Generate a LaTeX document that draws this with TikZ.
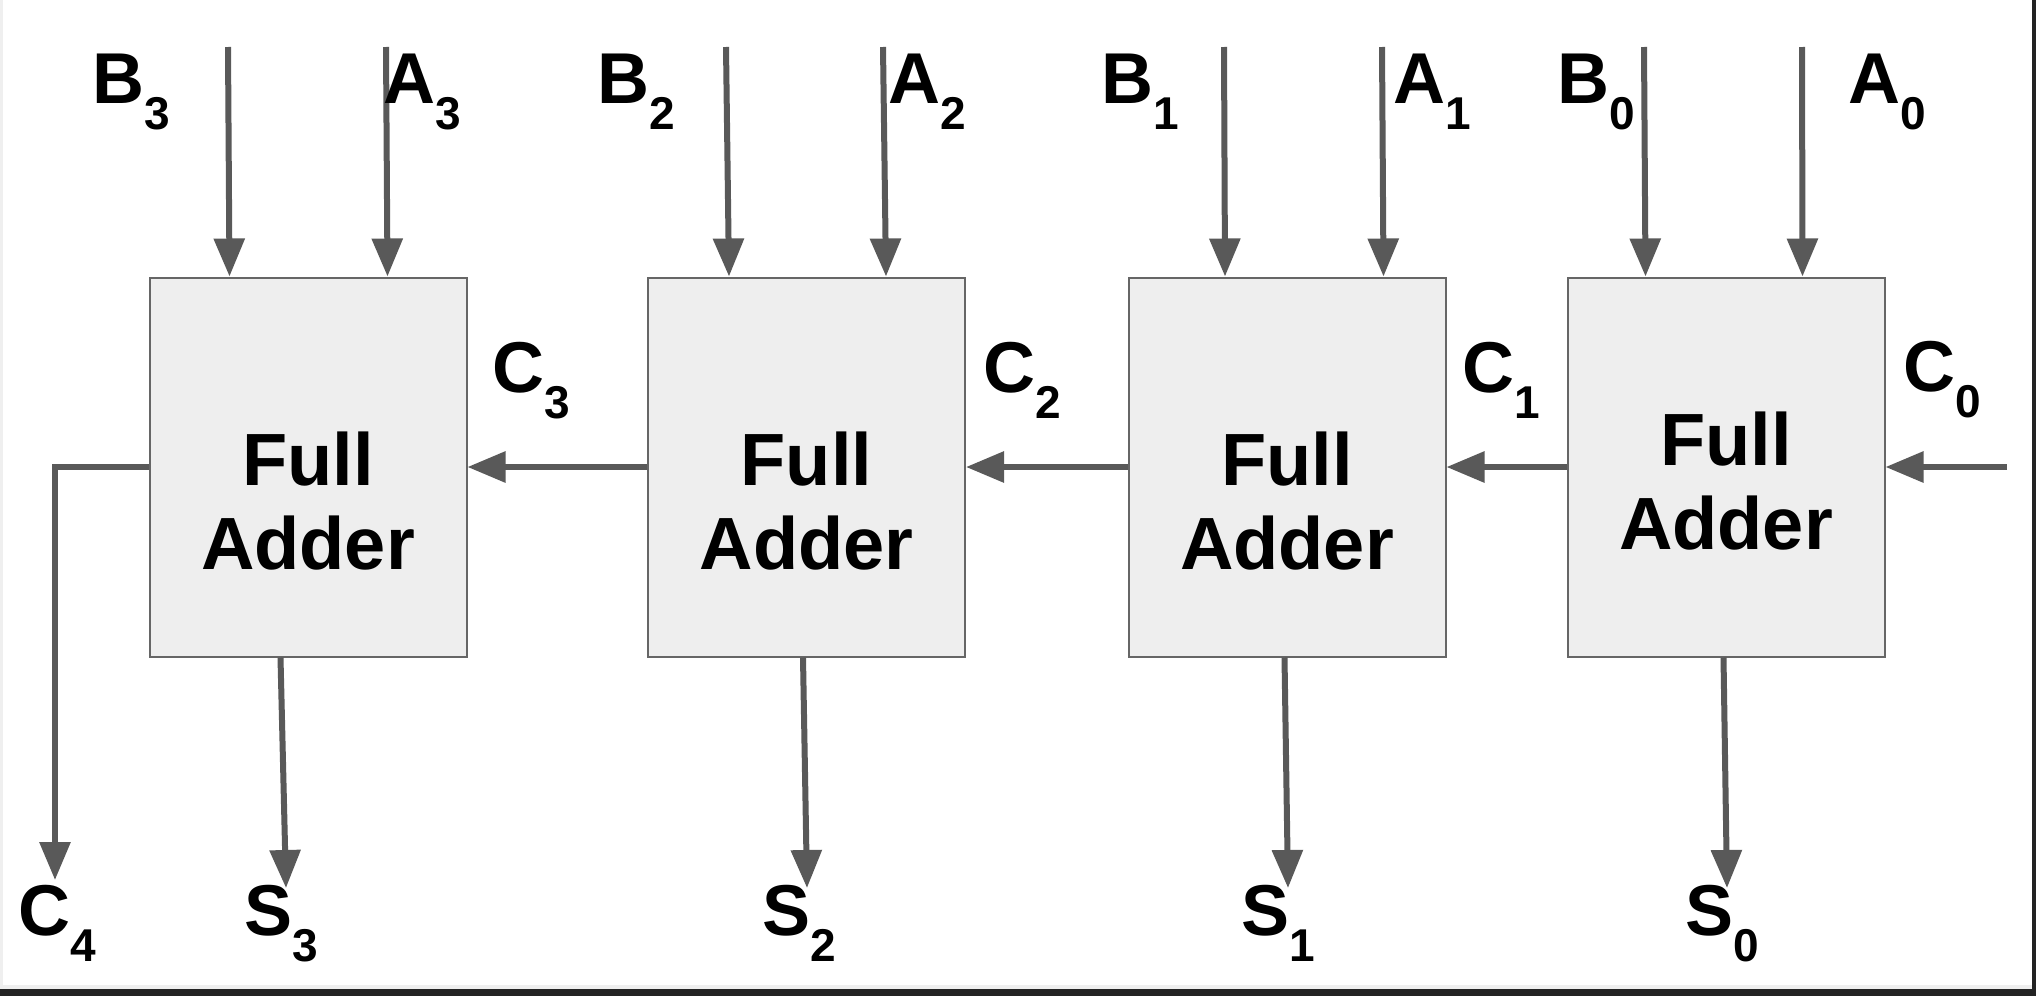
\documentclass[tikz,border=0pt]{standalone}
\usepackage{fontspec}
\setmainfont{Liberation Sans}
\usetikzlibrary{arrows.meta,calc}
\definecolor{wire}{HTML}{595959}
\definecolor{boxline}{HTML}{666666}
\definecolor{boxfill}{HTML}{EEEEEE}
\definecolor{frame}{HTML}{232323}
\definecolor{edgegray}{HTML}{EFEFEF}
\newcommand{\lblsub}[2]{#1\raisebox{-26pt}{\fontsize{46}{46}\selectfont #2}}
\begin{document}
\begin{tikzpicture}[x=1pt,y=-1pt,
  fa/.style={draw=boxline,line width=2pt,fill=boxfill,minimum width=317pt,minimum height=379pt,inner sep=0pt},
  fatext/.style={font=\bfseries\fontsize{74}{84}\selectfont,align=center,inner sep=0pt},
  lbl/.style={font=\bfseries\fontsize{72}{72}\selectfont,inner sep=0pt,anchor=base west},
  arr/.style={draw=wire,line width=6pt,-{Triangle[length=38pt,width=30pt]},line join=miter}]
\useasboundingbox (0,0) rectangle (2036,996);
\fill[white] (0,0) rectangle (2036,996);
\fill[edgegray] (0,0) rectangle (3,989);
\fill[edgegray] (0,985) rectangle (2032,989);
\fill[frame] (0,989) rectangle (2036,996);
\fill[frame] (2032,0) rectangle (2036,996);

% boxes
\node[fa] (b1) at (308,467) {};
\node[fa] (b2) at (806.5,467) {};
\node[fa] (b3) at (1287,467) {};
\node[fa] (b4) at (1726,467) {};
\node[fatext] (t1) at ($(b1.center)+(0,34)$) {Full\\Adder};
\node[fatext] (t2) at ($(b2.center)+(0,34)$) {Full\\Adder};
\node[fatext] (t3) at ($(b3.center)+(0,34)$) {Full\\Adder};
\node[fatext] (t4) at ($(b4.center)+(0,14)$) {Full\\Adder};

% input ends
\coordinate (inB3) at (228,47);
\coordinate (inA3) at (386,47);
\coordinate (inB2) at (726,47);
\coordinate (inA2) at (883,47);
\coordinate (inB1) at (1224,47);
\coordinate (inA1) at (1382,47);
\coordinate (inB0) at (1644,47);
\coordinate (inA0) at (1802,47);
\draw[arr] (inB3) -- ($(b1.north west)+(81,0)$);
\draw[arr] (inA3) -- ($(b1.north west)+(239,0)$);
\draw[arr] (inB2) -- ($(b2.north west)+(82,0)$);
\draw[arr] (inA2) -- ($(b2.north west)+(239,0)$);
\draw[arr] (inB1) -- ($(b3.north west)+(97.5,0)$);
\draw[arr] (inA1) -- ($(b3.north west)+(256,0)$);
\draw[arr] (inB0) -- ($(b4.north west)+(79,0)$);
\draw[arr] (inA0) -- ($(b4.north west)+(236,0)$);

% sum outputs
\coordinate (s3tip) at (286,888);
\coordinate (s2tip) at (807,888);
\coordinate (s1tip) at (1288,888);
\coordinate (s0tip) at (1727,888);
\draw[arr] ($(b1.south west)+(132,0)$) -- (s3tip);
\draw[arr] ($(b2.south west)+(156,0)$) -- (s2tip);
\draw[arr] ($(b3.south west)+(157,0)$) -- (s1tip);
\draw[arr] ($(b4.south west)+(157,0)$) -- (s0tip);

% carries
\coordinate (c0in) at (2007,467);
\coordinate (c4bend) at (55,467);
\coordinate (c4tip) at (55,880);
\draw[arr] (c0in) -- (b4.east);
\draw[arr] (b4.west) -- (b3.east);
\draw[arr] (b3.west) -- (b2.east);
\draw[arr] (b2.west) -- (b1.east);
\draw[arr] (b1.west) -- (c4bend) -- (c4tip);

% labels
\node[lbl] (lB3) at (92,103) {\lblsub{B}{3}};
\node[lbl] (lA3) at (383,103) {\lblsub{A}{3}};
\node[lbl] (lB2) at (597,103) {\lblsub{B}{2}};
\node[lbl] (lA2) at (888,103) {\lblsub{A}{2}};
\node[lbl] (lB1) at (1101,103) {\lblsub{B}{1}};
\node[lbl] (lA1) at (1393,103) {\lblsub{A}{1}};
\node[lbl] (lB0) at (1557,103) {\lblsub{B}{0}};
\node[lbl] (lA0) at (1848,103) {\lblsub{A}{0}};
\node[lbl] (lC3) at (492,392) {\lblsub{C}{3}};
\node[lbl] (lC2) at (983,392) {\lblsub{C}{2}};
\node[lbl] (lC1) at (1462,392) {\lblsub{C}{1}};
\node[lbl] (lC0) at (1903,391) {\lblsub{C}{0}};
\node[lbl] (lC4) at (18,935) {\lblsub{C}{4}};
\node[lbl] (lS3) at (244,935) {\lblsub{S}{3}};
\node[lbl] (lS2) at (762,935) {\lblsub{S}{2}};
\node[lbl] (lS1) at (1241,935) {\lblsub{S}{1}};
\node[lbl] (lS0) at (1685,935) {\lblsub{S}{0}};
\end{tikzpicture}
\end{document}
